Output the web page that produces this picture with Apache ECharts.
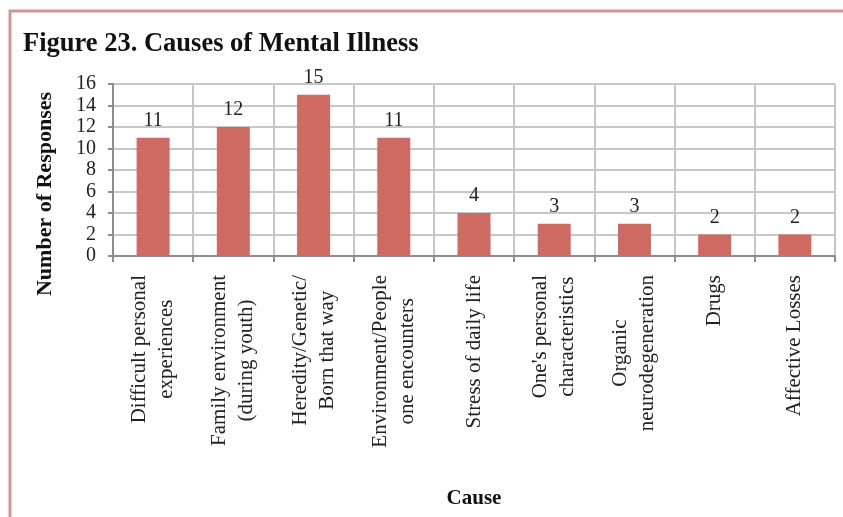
<!DOCTYPE html>
<html>
<head>
<meta charset="utf-8">
<script src="https://cdn.jsdelivr.net/npm/echarts@6/dist/echarts.min.js"></script>
<style>
  html, body { margin: 0; padding: 0; background: #fff; }
  #main { width: 843px; height: 517px; }
</style>
</head>
<body>
<div id="main"></div>
<script type="text/javascript">
    var causes = [
        'Difficult personal\nexperiences',
        'Family environment\n(during youth)',
        'Heredity/Genetic/\nBorn that way',
        'Environment/People\none encounters',
        'Stress of daily life',
        "One's personal\ncharacteristics",
        'Organic\nneurodegeneration',
        'Drugs',
        'Affective Losses'
    ];
    var responses = [11, 12, 15, 11, 4, 3, 3, 2, 2];
    var yTicks = { min: 0, max: 16, step: 2 };

    var serif = '"Liberation Serif", "Times New Roman", serif';
    var gridGray = '#c6c6c6';

    var myChart = echarts.init(document.getElementById('main'));
    var option = {
        backgroundColor: '#fff',
        animation: false,
        title: {
            text: 'Figure 23. Causes of Mental Illness',
            left: 18,
            top: 26,
            textStyle: { fontFamily: serif, fontSize: 26.5, fontWeight: 'bold', color: '#111' }
        },
        graphic: [{
            type: 'polyline',
            shape: { points: [[10, 517], [10, 11], [843, 11]] },
            style: { stroke: '#d29591', lineWidth: 3, fill: null }
        }],
        grid: { left: 113, right: 8, top: 84, bottom: 261 },
        xAxis: {
            type: 'category',
            data: causes,
            name: 'Cause',
            nameLocation: 'middle',
            nameGap: 232,
            nameTextStyle: { fontFamily: serif, fontSize: 21, fontWeight: 'bold', color: '#111' },
            axisLine: { lineStyle: { color: '#8c8c8c', width: 2 } },
            axisTick: { show: true, length: 6, lineStyle: { color: '#8c8c8c', width: 2 } },
            splitLine: { show: true, interval: 0, lineStyle: { color: gridGray, width: 2 } },
            axisLabel: {
                interval: 0,
                rotate: 90,
                margin: 19,
                color: '#222',
                fontFamily: serif,
                fontSize: 21,
                formatter: function (v) {
                    return v.split('\n').map(function (s) { return '{c|' + s + '}'; }).join('\n');
                },
                rich: {
                    c: { align: 'center', fontFamily: serif, fontSize: 21, lineHeight: 27, color: '#222' }
                }
            }
        },
        yAxis: {
            type: 'value',
            min: yTicks.min,
            max: yTicks.max,
            interval: yTicks.step,
            name: 'Number of Responses',
            nameLocation: 'middle',
            nameGap: 57,
            nameTextStyle: { fontFamily: serif, fontSize: 22, fontWeight: 'bold', color: '#111', padding: [0, 48, 0, 0] },
            axisLine: { show: true, lineStyle: { color: '#8c8c8c', width: 2 } },
            axisTick: { show: true, length: 5, lineStyle: { color: '#8c8c8c', width: 2 } },
            splitLine: { show: true, lineStyle: { color: gridGray, width: 2 } },
            axisLabel: { margin: 17, color: '#222', fontFamily: serif, fontSize: 20, padding: [4, 0, 0, 0] }
        },
        series: [{
            type: 'bar',
            data: responses,
            barWidth: 33,
            itemStyle: { color: '#cf6a63' },
            label: {
                show: true,
                position: 'top',
                distance: 7,
                color: '#222',
                fontFamily: serif,
                fontSize: 20
            }
        }]
    };
    myChart.setOption(option);
</script>
</body>
</html>
